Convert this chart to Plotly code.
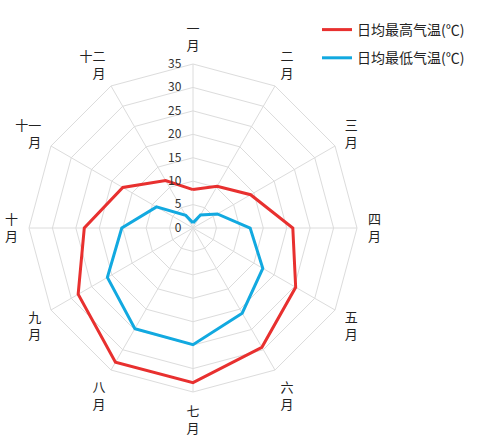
import plotly.graph_objects as go

months = ["一<br>月", "二<br>月", "三<br>月", "四<br>月", "五<br>月", "六<br>月",
          "七<br>月", "八<br>月", "九<br>月", "十<br>月", "十一<br>月", "十二<br>月"]
high = [8.2, 10.3, 14.2, 21.3, 25.3, 29.4, 33.0, 33.1, 28.3, 23.2, 17.3, 11.7]
low = [1.1, 3.2, 6.0, 12.2, 17.2, 21.0, 24.9, 24.8, 21.1, 15.2, 9.0, 3.1]
series_names = ["日均最高气温(℃)", "日均最低气温(℃)"]
colors = ["#e8302f", "#12a9e0"]

fig = go.Figure()
for i, (name, vals, c) in enumerate(zip(series_names, [high, low], colors)):
    fig.add_trace(go.Scatterpolar(
        r=vals + vals[:1], theta=months + months[:1], mode="lines", name=name,
        legendgroup=f"g{i}", line=dict(color=c, width=3)))

fig.update_layout(
    width=478, height=442, margin=dict(l=0, r=0, t=0, b=0),
    paper_bgcolor="white", plot_bgcolor="white",
    font=dict(family="Noto Sans CJK SC", size=12, color="#222"),
    polar=dict(
        domain=dict(x=[29/478, 357/478], y=[1-392/442, 1-64/442]),
        gridshape="linear", bgcolor="white",
        radialaxis=dict(range=[0, 35], dtick=5, angle=90, tickangle=90,
                        showline=False, gridcolor="#dcdcdc", ticks="outside",
                        ticklen=7, tickcolor="rgba(0,0,0,0)",
                        tickfont=dict(size=12, color="#333"), side="counterclockwise"),
        angularaxis=dict(direction="clockwise", rotation=90, gridcolor="#dcdcdc",
                         linecolor="#dcdcdc", showline=True, ticks="outside",
                         ticklen=8, tickcolor="rgba(0,0,0,0)",
                         tickfont=dict(size=13, color="#222")),
    ),
    legend=dict(x=317/478, y=1-14/442, xanchor="left", yanchor="top",
                tracegroupgap=7,
                font=dict(size=14, color="#222"), bgcolor="rgba(0,0,0,0)"),
)
fig.write_html("out.html")
